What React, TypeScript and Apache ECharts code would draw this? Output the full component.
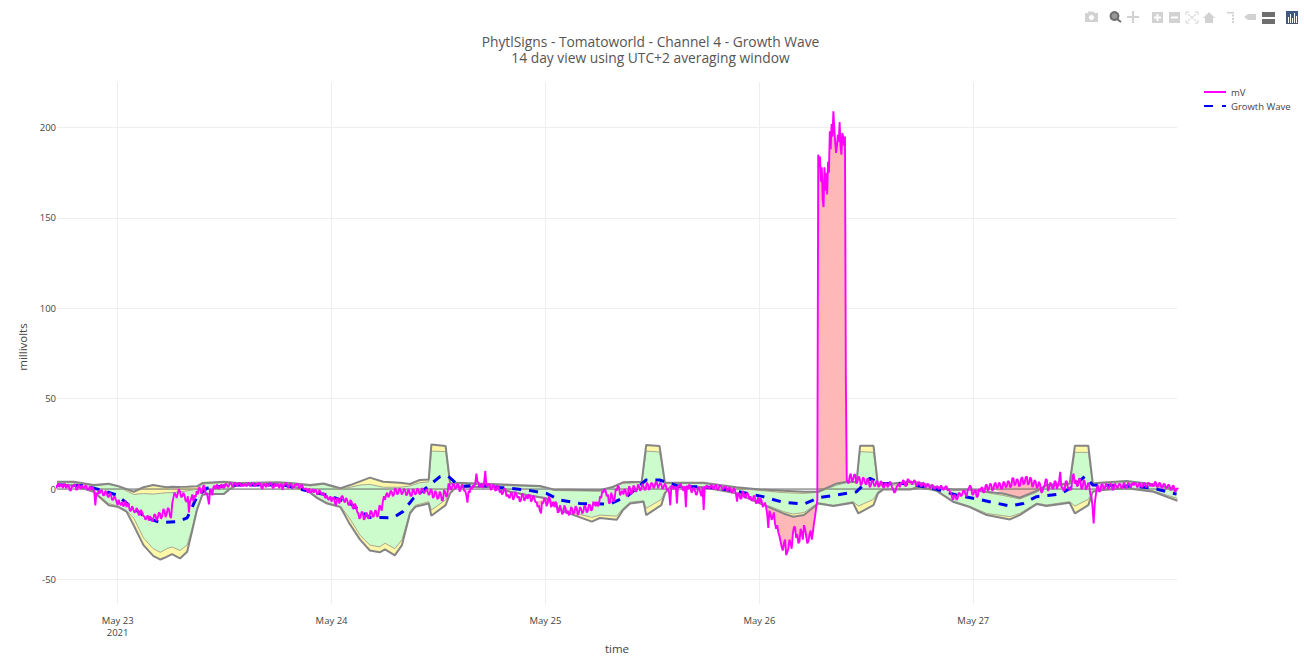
import React, { useEffect, useRef } from "react";
import * as echarts from "echarts";

const titleLines = ["PhytlSigns - Tomatoworld - Channel 4 - Growth Wave", "14 day view using UTC+2 averaging window"];
const xTickHours = [0, 24, 48, 72, 96];
const xTickLabels = ["May 23\n2021", "May 24", "May 25", "May 26", "May 27"];
const yTicks = [-50, 0, 50, 100, 150, 200];

// all times: hours after 2021-05-23 00:00
const outerUpper: number[][] = [[-6.8,4],[-4.9,4],[-2.7,2.2],[-1,3],[0.1,1.6],[1.8,-1.5],[2.9,1],[4,2.2],[4.8,1.5],[5.5,1],[6.1,1.3],[7,1.2],[7.8,1.3],[8.3,1.4],[8.9,1.5],[9.5,3.3],[10,3.5],[11.9,4],[12.6,3.8],[13.4,3.3],[17.9,3.7],[19.4,3.3],[21.6,2.2],[23.1,3.1],[25,0.4],[26.1,2.2],[28.3,6.3],[29.8,4],[31.7,3.5],[32.8,2.8],[33.9,5],[34.9,5.3],[35.2,24.7],[36.8,23.8],[37.3,3.1],[38,3.5],[47.4,1.7],[48.9,-0.2],[54.1,-0.6],[55.6,1.3],[56.7,3.7],[58.8,4],[59.3,24.4],[60.8,23.8],[61.4,3.5],[65.7,3.5],[69.4,1],[72.1,-0.2],[74.7,-1],[77,-1.5],[78.6,-1.5],[80.7,3.1],[81.8,4],[82.9,4],[83.3,24],[84.8,24],[85.3,2.2],[88.9,4],[90,3.5],[91.9,1],[93.7,-0.2],[95.6,-0.2],[97.5,-1.5],[99.3,-2.5],[101.2,-4.8],[103.1,-1],[104.2,2.2],[106.8,3],[107.4,24],[108.9,24],[109.4,3.1],[110.2,3.5],[113.2,4.4],[116.2,2.6],[118.9,-0.5]];
const innerUpper: number[][] = [[-6.8,3.5],[-4.9,3.5],[-2.7,1.7],[-1,2.5],[0.1,1.2],[1.8,-3],[2.9,-2.5],[4,-2.8],[4.8,-2.4],[5.5,-2],[6.1,-2],[7,-1.5],[7.8,-1],[8.3,-0.6],[8.9,0],[9.5,2.5],[10,3],[11.9,3.5],[12.6,3.3],[13.4,2.9],[17.9,3.2],[19.4,2.8],[21.6,1.7],[23.1,2.6],[25,-0.2],[26.1,1],[27.2,2.2],[28.3,2.6],[29.8,1],[31.7,1],[32.8,1.7],[33.9,3.5],[34.9,4],[35.2,21],[36.8,20.7],[37.3,2.6],[38,3],[47.4,1.2],[48.9,-0.8],[54.1,-1.2],[55.6,0.8],[56.7,3.2],[58.8,3.5],[59.3,21],[60.8,20.5],[61.4,3],[65.7,3],[69.4,0.5],[72.1,-0.8],[74.7,-2],[77,-2.4],[78.6,-1.8],[80.7,2.2],[81.8,3.5],[82.9,3.6],[83.3,20.7],[84.8,20.3],[85.3,1.6],[88.9,2.8],[90,2.5],[91.9,0.5],[93.7,-0.7],[95.6,-0.7],[97.5,-2],[99.3,-3.5],[101.2,-5.5],[103.1,-1.8],[104.2,1.6],[106.8,2.2],[107.4,20.3],[108.9,20.3],[109.4,2.2],[110.2,3],[113.2,3.5],[116.2,1.6],[118.9,-1.5]];
const innerLower: number[][] = [[-6.8,2.5],[-4.9,2.5],[-2.7,-1],[-1,-8],[0.1,-9.5],[1,-12],[1.8,-16],[2.9,-27],[4,-33],[4.8,-35],[5.5,-33],[6.1,-32],[7,-34],[7.8,-31],[8.3,-22.7],[8.9,-10.7],[9.5,-3],[10,-2.5],[11.9,-2.5],[12.6,0.3],[13.4,2.4],[17.9,2.4],[19.4,1.8],[21.2,0],[22.4,-4.5],[23.5,-7.5],[25,-9.5],[26,-16],[27.2,-25.5],[28.3,-31],[29.4,-32],[30,-30],[31.1,-33],[31.9,-28],[32.8,-12.5],[33.4,-9],[34.9,-7],[35.2,-11.6],[36.8,-6],[37.3,-2],[38,1.6],[42.2,1.3],[44,-1.2],[45.9,-3],[48.1,-4.8],[49.6,-10.7],[51.5,-13.5],[53.2,-15.7],[54.1,-14.4],[56,-15],[56.7,-10.7],[57.5,-7.3],[59,-6.5],[59.3,-10.7],[61,-5.7],[61.4,-1.5],[62,1.6],[65.7,1.3],[69.4,-2],[72.1,-7.5],[74.7,-12.5],[75.8,-13.8],[77,-13],[78.6,-7.6],[80.3,-9],[82.5,-7],[83.1,-9.4],[84.8,-5.7],[85.3,-1.5],[85.9,0],[88.9,0],[90,1.6],[91.9,-0.5],[93.7,-6.5],[95.6,-9.5],[97.5,-13.5],[100.1,-15.3],[101.2,-13.5],[103.1,-7.8],[104.2,-8.8],[106.8,-7],[107.4,-9.4],[108.9,-5.7],[109.4,-1],[110.2,-0.3],[113.2,1],[116.2,-1],[118.9,-5.2]];
const outerLower: number[][] = [[-6.8,2],[-4.9,2],[-2.7,-1.5],[-1,-9],[0.1,-10],[1,-12.5],[1.8,-20],[2.9,-31],[4,-37],[4.8,-39],[5.5,-37.5],[6.1,-36],[7,-38.4],[7.8,-34.7],[8.3,-24.5],[8.9,-11.6],[9.5,-3.3],[10,-2.8],[11.9,-2.8],[12.6,0],[13.4,2.2],[17.9,2.2],[19.4,1.6],[21.2,-0.5],[22.4,-5],[23.5,-8],[25,-10],[26,-19],[27.2,-28],[28.3,-34],[29.4,-35],[30,-33.4],[31.1,-36.7],[31.9,-31],[32.8,-13.5],[33.4,-9.8],[34.9,-8],[35.2,-14.8],[36.8,-8.9],[37.3,-2.4],[38,1.3],[42.2,1],[44,-1.5],[45.9,-3.3],[48.1,-5.2],[49.6,-11.6],[51.5,-15],[53.2,-18],[54.1,-16],[56,-17],[56.7,-11.6],[57.5,-8],[59,-7],[59.3,-14.4],[61,-8.9],[61.4,-2.4],[62,1.2],[65.7,1],[69.4,-2.4],[72.1,-8],[74.7,-13.5],[75.8,-15.3],[77,-14.4],[78.6,-8],[80.3,-9.4],[82.5,-7.6],[83.1,-13.5],[84.8,-8.9],[85.3,-2.4],[85.9,-0.2],[88.9,-0.2],[90,1],[91.9,-1],[93.7,-7],[95.6,-10],[97.5,-14.4],[100.1,-16.8],[101.2,-14.4],[103.1,-8.3],[104.2,-9.4],[106.8,-7.6],[107.4,-13.5],[108.9,-8.9],[109.4,-1.5],[110.2,-0.6],[113.2,0.4],[116.2,-1.5],[118.9,-6.5]];
const growthWave: number[][] = [[-6.8,2.2],[-6.4,2.2],[-3.8,1.8],[-1.9,-0.5],[-0.1,-3.3],[1.4,-9.4],[3.3,-16],[4.8,-18.6],[6.8,-18],[7.8,-16],[8.9,-4.2],[10,0.4],[12.6,2.2],[18.6,2.2],[20.9,-0.5],[23.5,-3.3],[26.1,-8],[27.6,-13.5],[28.3,-15.7],[30.9,-15.9],[32,-12.5],[33.2,-5],[35,2.2],[36.2,7],[37.1,7],[38.4,1.3],[40.3,2.2],[42.9,0.9],[45.9,-0.5],[48.1,-2.4],[49.6,-6],[51.9,-8],[55.2,-8.3],[57.1,-4.2],[59.3,5],[60.8,5],[63.1,1.3],[65.7,1.3],[68.7,-0.5],[72.4,-4.2],[74.7,-7.4],[77,-8.3],[78.8,-4.6],[80.7,-3.3],[82.9,-1.5],[84.4,6],[85.5,3.1],[88.1,3.1],[91.1,0.9],[91.9,-0.2],[94.1,-3.3],[96.4,-5.5],[100.1,-9.4],[101.6,-8],[103.1,-4.2],[105.7,-2.8],[107.2,1.3],[108.5,7],[109.4,2.2],[113.9,1.6],[116.2,0.4],[118.8,-2.8]];

// mV readings, quarter-hour samples; each group is one hour
const mvFirstStart = -7;
const mvFirst = [
2.5,2,1,2.5, 3,0.5,2,-1, 1,2.5,0,1.5, 2,0.5,1.5,0, -0.5,0.5,-9,-3, -2.5,-1,-3.5,-2, -4.5,-3,-6,-5,
-9,-8,-7,-9, -10,-9,-12,-11, -12.5,-11.5,-14,-13, -15,-16,-17.5,-16, -16.5,-14.5,-16,-13.5, -15,-12,-14,-11,
-16,-5,-3,-2.5, -1.5,-4,-3.5,-7, -13,-5.5,-7,-4.5, -3,0.5,-1,1.5, -2,-8.5,-1,1, 0,1.5,1,2, 1.5,2.5,2,3,
2,3,2.5,3, 2.5,3,1.5,3, 2.5,3,2,2.5, 3,0,2.5,3, 2,3,0.5,2.5, 3,2,-0.5,2.5, 3,1.5,2.5,1, 2,2.5,1,1.5,
0,-1,0.5,-1.5, -2,-0.5,-2.5,-1.5, -3,-4.5,-3.5,-5.5, -7,-4.5,-9,-5.5, -6,-4,-7.5,-6, -9,-7,-11,-9.5,
-13.5,-15.5,-13,-16, -14,-15.5,-12.5,-15, -12,-14.5,-10,-7, -6,-2,-3.5,-1.5, -3,-0.5,-2,-0.5, -2,-0.5,-3,-1.5,
-3.5,-1,-2.5,-0.5, -2,0,-1.5,-1, -3,-1,-4,-2, -5,-2.5,-6,-1.5, -3,2,0.5,2.5, 1,2,0,1.5, -1,-7.5,-2,0,
1.5,8.5,3.5,2, 0.5,10,1.5,2.5, 0.5,1.5,-0.5,1, -0.5,-2,0,-3, -5,-2.5,-4.5,-3, -4,-6,-3,-5, -5.5,-3.5,-6,-5,
-7,-9,-13.5,-8, -6,-8,-5.5,-9, -10,-8,-12.5,-11, -13,-10.5,-12,-13.5, -11,-13,-10.5,-13, -11,-12.5,-10,-12,
-9,-11,-8,-7, -8.5,-5,-2,-1, -3,-7.5,-4,-6, -1,1,-2,-3, -1,-3,0.5,-1.5, 1,-1,1.5,0, 1.5,0,2.5,1,
3,1.5,3.5,2, 2.5,1,2,0, -9,1.5,0.5,-8, 1,2,-1,-10, 0,1.5,-1,-0.5, -3,0.5,-4,-11.5, 0.5,1,1.5,0.5,
1.5,0,1.5,1, 0.5,1,-0.5,0, -1.5,-0.5,-7,-3, -5,-2.5,-4,-3, -4,-6,-5,-7, -8,-6.5,-9,-10,
-21.5,-14,-15.5,-19, -20,-26,-32,-30, -36.5,-33,-30,-25, -21,-25,-29,-24, -20,-26,-29,-23, -24,-15,-6,
];
// the readings seen between those quarter-hour samples
const mvFirstBetween = [
0.5,3,2.5,0.5, 1.5,2.5,-0.5,2, 2.5,-0.5,2.5,0, 1,2,-0.5,1.5, 1,-1,-2,-1, -0.5,-3.5,-1,-4, -2,-6,-4,-7,
-6,-9,-9.5,-6.5, -8,-12,-9.5,-13, -10.5,-14.5,-11.5,-15, -17,-14.5,-15,-18, -14,-17.5,-13,-16.5, -11,-15.5,-10.5,-15,
-8,-2,-5,0, -4.5,-2,-6.5,-4, -7,-3,-3.5,-1, 1,-2.5,2,-3, -5,0,-3.5,2, 2.5,0,2.5,0.5, 3,1,3.5,1.5,
3.5,1.5,3.5,1.5, 1.5,2,3.5,1.5, 3.5,1.5,3,3.5, 1,3,1,2, 3.5,1,3,1.5, 0.5,3,2,3.5, 0.5,3,0.5,2.5, 3,0.5,2.5,0,
0.5,-2,-2,0, -0.5,-3,-0.5,-3, -2,-5,-6,-4, -5,-7.5,-5,-8, -4,-6.5,-5,-8.5, -6,-10.5,-8,-12.5,
-16.5,-12.5,-17,-13, -16.5,-12,-15.5,-12, -15.5,-9,-12,-4, -3,-4.5,-1,-4, 0.5,-3,0.5,-3, 0,-3.5,0,-4,
0,-3,0.5,-3, 0.5,-2.5,0,-3, 0,-5,-1,-5.5, -1.5,-6.5,-0.5,-4.5, 3,-0.5,3,0, 3,-1.5,2.5,-1, -3.5,-1,1,2,
3,4,1,3, 4,2,3,-0.5, 2.5,-1,2,-2, -3,0.5,-4,-4.5, -2,-6,-1.5,-5, -7,-2.5,-6.5,-3.5, -3,-7,-3.5,-7.5,
-10,-12,-7,-5, -9.5,-4,-10,-7, -7,-13,-9,-14, -9,-13.5,-14.5,-10, -14,-9.5,-14.5,-10, -13.5,-9,-13,-8.5,
-12,-7,-9.5,-9.5, -4,-1,0,-4, -8,-2,-7,0, 2,-3.5,-1,0, -4,1.5,-3,2, -1.5,2.5,-1,3, -0.5,3.5,-0.5,3.5,
0.5,4,0.5,3.5, 0,3,-0.5,-2, 2,0,1.5,2, 3,0,1.5,2, 2.5,-2,1,-3, 1,-2,1,1.5, 2,0,2.5,0,
2.5,-0.5,2,-0.5, 1.5,-1,1,-2, 0.5,-3,-2,-5.5, -1,-5,-2,-5.5, -6.5,-3.5,-8,-4.5, -5,-10,-7.5,-14,
-12,-17,-13,-22, -24,-29,-34,-28, -35,-28,-33,-21, -27,-30,-22,-28, -22,-30,-25,-28, -19,-10,
];
// spike on May 26, tenth-of-an-hour samples
const mvSpikeStart = 78.6;
const mvSpike = [185,178,184,170,178,160,156,178,165,175,163,181,175,198,188,202,195,209,200,192,186,190,196,192,203,190,185,197,195,190,195,60,5];
const mvLastStart = 82;
const mvLast = [
3,8.5,5,8, 4,6,3,5.5, 2.5,5,2,4, 1.5,4,2.5,3.5, 1,3,2,3.5, 0,-1.5,2,1, 3,4,2,5, 4.5,3.5,4,2.5, 3,2,3,1.5, 2,1,1.5,0.5,
1.5,0.5,1,0, 1.5,0,-2,-6, -4,-5,-2.5,-3, -1,-4,0.5,1, -3,-0.5,-4,-1, 1,-1.5,2.5,0, 2.5,0,3.5,1, 3,0.5,3.5,1.5,
4,1.5,6,3, 5,2,6.5,3.5, 7,3,5.5,2.5, 4,1.5,2.5,-1.5, 2,5,0,3, 0.5,4,2,9.5, 1,0,4,1, 0,8.5,5,2, 5,0.5,4,1,
2,-4,-19,-3, 2,-1,2.5,0.5, 2,1,2.5,0, 2,1.5,2.5,1, 2.5,1,3,2, 2,3,1.5,2.5, 1.5,3,2,3, 3,2,3.5,2, 3,1.5,2.5,1, 2,0,1.5,-0.5, 0,
];
const mvLastBetween = [
7,4,8,3, 7,2,6.5,3, 6,1,5,2, 4.5,1,4.5,1, 3.5,1,4,1, -2,1,3,3.5, 5,1.5,5.5,3.5, 2.5,5,1.5,4, 1.5,3.5,1,3, 0.5,2.5,0,1.5,
0,2,-0.5,1.5, -1,-1.5,-5,-3, -6,-2,-4,-1, -3,-0.5,2,-3, -1,-4.5,0,0.5, -2,2,-1,3, -1,3,0.5,3.5, 0,4,1,4.5,
1,6,2,5.5, 1.5,6,2.5,6.5, 2.5,6.5,1,5, 0.5,4,-2,1, 5.5,-1,3.5,0, 4.5,0,4.5,1, -1,4.5,0,-0.5, 7,3,1.5,6, 0,5,-0.5,3.5,
-3,-10,-8,1, -1.5,2.5,0,3, 0,3,-0.5,3, 0.5,3,0.5,3.5, 0.5,3.5,1,3.5, 3.5,1,3.5,1, 3.5,1,3.5,1.5, 1.5,4,1,3.5, 0.5,3,0.5,2.5, -0.5,2,-1.5,0.5,
];
const redRegions: [number, number, "upper" | "lower"][] = [[47, 48.4, "lower"], [71.9, 78.55, "lower"], [78.6, 81.85, "upper"], [98.2, 104, "upper"]];

function weave(start: number, samples: number[], between: number[]) {
  const out: number[][] = [];
  samples.forEach((v, i) => {
    out.push([start + i * 0.25, v]);
    if (between[i] !== undefined) out.push([start + i * 0.25 + 0.125, between[i]]);
  });
  return out;
}
const mvHourly: number[][] = [
  ...weave(mvFirstStart, mvFirst, mvFirstBetween),
  ...mvSpike.map((v, i) => [mvSpikeStart + i * 0.1, v]),
  ...weave(mvLastStart, mvLast, mvLastBetween),
];

const GREEN = "#ccfccc";
const YELLOW = "#fdf7a8";
const RED = "#ffb8b8";
const GREY = "#858585";
const FONT = '"Open Sans", verdana, sans-serif';

function polygonSeries(name: string, data: number[][], fill: string) {
  return {
    name,
    type: "custom",
    silent: true,
    clip: true,
    encode: { x: 0, y: 1 },
    data,
    renderItem: (params: any, api: any) => {
      if (params.dataIndex !== 0) return null;
      return {
        type: "polygon",
        shape: { points: data.map((d) => api.coord(d)) },
        style: { fill, stroke: null },
      };
    },
  };
}

function edgeSeries(name: string, data: number[][], color: string, width: number) {
  return {
    name,
    type: "line",
    silent: true,
    symbol: "none",
    data,
    lineStyle: { color, width },
  };
}

const redSeries = redRegions.map(([a, b, side], i) => {
  const edge = side === "upper" ? outerUpper : outerLower;
  const top = mvHourly.filter(([h]) => h >= a && h <= b);
  const back = edge.filter(([h]) => h >= a && h <= b).reverse();
  return polygonSeries("Excursion " + (i + 1), [...top, ...back], RED);
});

const iconGrey = "#d2d2d2";
const iconDark = "#6e6e6e";
function rect(x: number, y: number, w: number, h: number, fill: string) {
  return { type: "rect", shape: { x, y, width: w, height: h }, style: { fill }, silent: true };
}
const modebar: any[] = [
  rect(1085, 13, 13, 9, iconGrey), rect(1088, 11.5, 6, 2, iconGrey),
  { type: "circle", shape: { cx: 1091.5, cy: 17.5, r: 3 }, style: { fill: "#fff", stroke: iconGrey, lineWidth: 1 }, silent: true },
  { type: "circle", shape: { cx: 1114.5, cy: 16, r: 4 }, style: { fill: "#999", stroke: iconDark, lineWidth: 2 }, silent: true },
  { type: "line", shape: { x1: 1117, y1: 19, x2: 1121, y2: 22 }, style: { stroke: iconDark, lineWidth: 2 }, silent: true },
  { type: "line", shape: { x1: 1127, y1: 17, x2: 1139, y2: 17 }, style: { stroke: iconGrey, lineWidth: 2 }, silent: true },
  { type: "line", shape: { x1: 1133, y1: 11, x2: 1133, y2: 23 }, style: { stroke: iconGrey, lineWidth: 2 }, silent: true },
  rect(1152, 12, 11, 11, iconGrey), rect(1154, 16.5, 7, 2, "#fff"), rect(1156.5, 14, 2, 7, "#fff"),
  rect(1169, 12, 11, 11, iconGrey), rect(1171, 16.5, 7, 2, "#fff"),
  { type: "polyline", shape: { points: [[1186, 15], [1186, 12], [1189, 12]] }, style: { stroke: iconGrey, lineWidth: 1, fill: "none" }, silent: true },
  { type: "polyline", shape: { points: [[1195, 12], [1198, 12], [1198, 15]] }, style: { stroke: iconGrey, lineWidth: 1, fill: "none" }, silent: true },
  { type: "polyline", shape: { points: [[1186, 20], [1186, 23], [1189, 23]] }, style: { stroke: iconGrey, lineWidth: 1, fill: "none" }, silent: true },
  { type: "polyline", shape: { points: [[1195, 23], [1198, 23], [1198, 20]] }, style: { stroke: iconGrey, lineWidth: 1, fill: "none" }, silent: true },
  { type: "line", shape: { x1: 1188, y1: 14, x2: 1196, y2: 21 }, style: { stroke: iconGrey, lineWidth: 1 }, silent: true },
  { type: "line", shape: { x1: 1196, y1: 14, x2: 1188, y2: 21 }, style: { stroke: iconGrey, lineWidth: 1 }, silent: true },
  { type: "polygon", shape: { points: [[1203, 18], [1209, 12], [1215, 18], [1213, 18], [1213, 23], [1205, 23], [1205, 18]] }, style: { fill: iconGrey }, silent: true },
  rect(1227, 12, 7, 1.5, iconGrey), rect(1232, 14.5, 2, 2, iconGrey), rect(1232, 18, 2, 2, iconGrey), rect(1232, 21, 2, 2, iconGrey),
  { type: "polygon", shape: { points: [[1244, 17], [1248, 14], [1256, 14], [1256, 20], [1248, 20]] }, style: { fill: iconGrey }, silent: true },
  rect(1262, 12, 13, 5, iconDark), rect(1262, 19, 13, 5, iconDark),
  rect(1286, 11, 12, 13, "#3f5a84"),
  rect(1288, 17, 1, 6, "#fff"), rect(1290, 14, 1, 9, "#fff"), rect(1292, 18, 1, 5, "#fff"), rect(1294, 13, 1, 10, "#fff"), rect(1296, 16, 1, 7, "#fff"),
];

export default function App() {
  const ref = useRef<HTMLDivElement>(null);
  useEffect(() => {
    document.body.style.margin = "0";
    const chart = echarts.init(ref.current!, undefined, { renderer: "svg" });
    const titleStyle = { fontFamily: FONT, fontSize: 13.8, lineHeight: 14, fontWeight: "normal", color: "#555" };
    chart.setOption({
      animation: false,
      backgroundColor: "#fff",
      textStyle: { fontFamily: FONT },
      title: [
        { text: titleLines[0], left: 645.5, top: 29, textAlign: "center", textStyle: titleStyle },
        { text: titleLines[1], left: 645.5, top: 45, textAlign: "center", textStyle: titleStyle },
      ],
      legend: {
        data: [
          { name: "mV", icon: "path://M0,0H22V2H0Z" },
          { name: "Growth Wave", icon: "path://M0,0H9V2H0Z M18,0H22V2H18Z" },
        ],
        orient: "vertical",
        left: 1199,
        top: 82,
        itemWidth: 22,
        itemHeight: 2.5,
        itemGap: 4,
        selectedMode: false,
        textStyle: { fontFamily: FONT, fontSize: 9.5, color: "#444" },
      },
      grid: { left: 57, right: 127, top: 82, bottom: 62 },
      xAxis: {
        type: "value",
        min: -6.8,
        max: 118.85,
        name: "time",
        nameLocation: "middle",
        nameGap: 38,
        nameTextStyle: { fontFamily: FONT, fontSize: 11.5, color: "#444" },
        axisLine: { show: false },
        axisTick: { show: false, customValues: xTickHours },
        splitLine: { show: true, lineStyle: { color: "#eeeeee", width: 1 } },
        axisLabel: {
          customValues: xTickHours,
          margin: 10,
          hideOverlap: false,
          fontFamily: FONT,
          fontSize: 9.5,
          lineHeight: 12,
          color: "#444",
          formatter: (v: number) => xTickLabels[xTickHours.indexOf(v)] ?? "",
        },
      },
      yAxis: {
        type: "value",
        min: -63.6,
        max: 225.2,
        name: "millivolts",
        nameLocation: "middle",
        nameGap: 22,
        nameTextStyle: { fontFamily: FONT, fontSize: 11.5, color: "#444", padding: [0, 8, 0, 0] },
        axisLine: { show: false },
        axisTick: { show: false, customValues: yTicks },
        splitLine: { show: true, lineStyle: { color: "#eeeeee", width: 1 } },
        axisLabel: { customValues: yTicks, margin: 1, fontFamily: FONT, fontSize: 9.5, color: "#444" },
      },
      graphic: modebar,
      series: [
        {
          name: "Zero",
          type: "line",
          silent: true,
          symbol: "none",
          data: [[-6.8, 0], [118.85, 0]],
          lineStyle: { color: "#666", width: 1 },
        },
        ...redSeries,
        polygonSeries("Outer band", [...outerUpper, ...[...outerLower].reverse()], YELLOW),
        polygonSeries("Inner band", [...innerUpper, ...[...innerLower].reverse()], GREEN),
        edgeSeries("Inner upper", innerUpper, "#a8a890", 1),
        edgeSeries("Inner lower", innerLower, "#a8a890", 1),
        edgeSeries("Outer upper", outerUpper, GREY, 2),
        edgeSeries("Outer lower", outerLower, GREY, 2),
        {
          name: "Growth Wave",
          type: "line",
          symbol: "none",
          data: growthWave,
          itemStyle: { color: "#0000ee" },
          lineStyle: { color: "#0000ee", width: 3, type: [9, 8] },
        },
        {
          name: "mV",
          type: "line",
          symbol: "none",
          data: mvHourly,
          itemStyle: { color: "#ff00ff" },
          lineStyle: { color: "#ff00ff", width: 1.9 },
        },
      ],
    });
    return () => chart.dispose();
  }, []);
  return <div ref={ref} style={{ position: "absolute", left: 0, top: 0, width: 1304, height: 666 }} />;
}
